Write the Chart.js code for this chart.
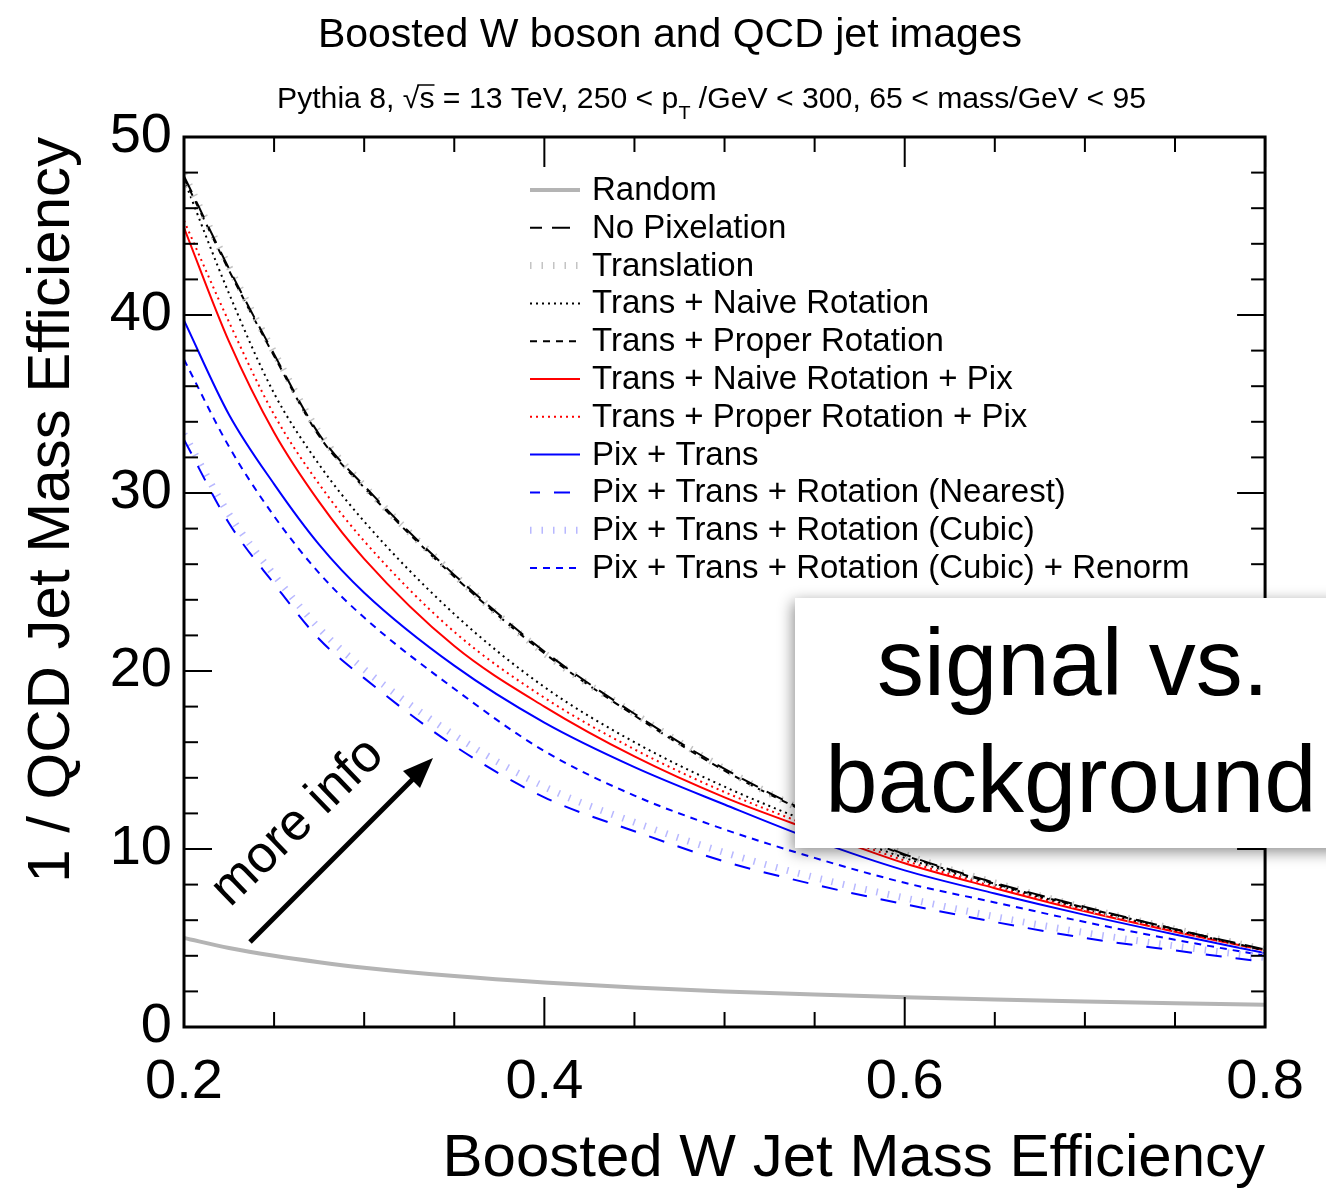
<!DOCTYPE html>
<html>
<head>
<meta charset="utf-8">
<script src="https://cdn.jsdelivr.net/npm/chart.js@4.4.1/dist/chart.umd.min.js"></script>
<style>
  html, body { margin: 0; padding: 0; background: #fff; }
  #wrap { width: 1326px; height: 1189px; position: relative; }
</style>
</head>
<body>
<div id="wrap"><canvas id="chart" width="1326" height="1189"></canvas></div>
<script>
const sigEff = [0.2, 0.225, 0.25, 0.275, 0.3, 0.35, 0.4, 0.45, 0.5, 0.55, 0.6, 0.65, 0.7, 0.75, 0.8];

// 1 / QCD efficiency for each curve
const random = [5.0, 4.44, 4.0, 3.64, 3.33, 2.86, 2.5, 2.22, 2.0, 1.82, 1.67, 1.54, 1.43, 1.33, 1.25];
const noPixelation = [47.8, 42.6, 37.8, 33.3, 30.4, 25.4, 21.1, 17.6, 14.5, 11.9, 9.7, 8.1, 6.75, 5.5, 4.35];
const translation = [47.9, 42.7, 37.9, 33.4, 30.4, 25.4, 21.0, 17.6, 14.5, 11.85, 9.7, 8.1, 6.7, 5.5, 4.35];
const transNaiveRot = [47.6, 41.2, 35.6, 31.6, 28.4, 23.2, 19.1, 16.0, 13.5, 11.4, 9.5, 8.0, 6.65, 5.45, 4.3];
const transProperRot = [47.7, 42.5, 37.7, 33.2, 30.3, 25.3, 21.0, 17.5, 14.4, 11.85, 9.65, 8.05, 6.7, 5.5, 4.3];
const transNaiveRotPix = [44.9, 38.5, 33.4, 29.5, 26.3, 21.4, 18.0, 15.2, 12.9, 11.0, 9.2, 7.8, 6.5, 5.35, 4.3];
const transProperRotPix = [45.3, 39.6, 34.4, 30.5, 27.3, 22.2, 18.5, 15.6, 13.2, 11.2, 9.35, 7.9, 6.6, 5.4, 4.3];
const pixTrans = [39.7, 34.4, 30.5, 27.1, 24.4, 20.3, 17.1, 14.6, 12.5, 10.5, 8.8, 7.5, 6.3, 5.2, 4.15];
const pixTransRotNearest = [33.0, 28.3, 24.9, 21.8, 19.6, 15.8, 12.9, 11.0, 9.3, 8.0, 6.9, 5.9, 5.0, 4.3, 3.65];
const pixTransRotCubic = [33.3, 28.8, 25.4, 22.4, 20.1, 16.4, 13.5, 11.5, 9.8, 8.4, 7.25, 6.2, 5.3, 4.55, 3.9];
const pixTransRotCubicRenorm = [37.5, 32.6, 28.7, 25.5, 23.0, 19.0, 15.5, 13.0, 11.1, 9.5, 8.1, 7.0, 5.9, 4.9, 4.0];

const xTicks = [0.2, 0.4, 0.6, 0.8];
const xTickLabels = ['0.2', '0.4', '0.6', '0.8'];
const xMinorTicks = [0.25, 0.3, 0.35, 0.45, 0.5, 0.55, 0.65, 0.7, 0.75];
const yTicks = [0, 10, 20, 30, 40, 50];
const yTickLabels = ['0', '10', '20', '30', '40', '50'];
const yMinorTicks = [2, 4, 6, 8, 12, 14, 16, 18, 22, 24, 26, 28, 32, 34, 36, 38, 42, 44, 46, 48];

const FONT = '"Liberation Sans", Arial, Helvetica, sans-serif';

function pts(ys) {
    return sigEff.map((x, i) => ({ x: x, y: ys[i] }));
}

function line(label, ys, color, width, dash) {
    return {
        label: label,
        data: pts(ys),
        borderColor: color,
        borderWidth: width,
        borderDash: dash,
        pointRadius: 0,
        fill: false,
        cubicInterpolationMode: 'monotone'
    };
}

const datasets = [
    line('Random', random, '#b4b4b4', 4, []),
    line('No Pixelation', noPixelation, '#000000', 2, [18, 10]),
    line('Translation', translation, '#c4c4c4', 7, [1.5, 10]),
    line('Trans + Naive Rotation', transNaiveRot, '#000000', 2, [2, 4]),
    line('Trans + Proper Rotation', transProperRot, '#000000', 2, [7, 6]),
    line('Trans + Naive Rotation + Pix', transNaiveRotPix, '#ff0000', 2, []),
    line('Trans + Proper Rotation + Pix', transProperRotPix, '#ff0000', 2, [2, 4]),
    line('Pix + Trans', pixTrans, '#0000ff', 2, []),
    line('Pix + Trans + Rotation (Nearest)', pixTransRotNearest, '#0000ff', 2, [16, 14]),
    line('Pix + Trans + Rotation (Cubic)', pixTransRotCubic, '#b8b8ff', 7, [1.5, 10]),
    line('Pix + Trans + Rotation (Cubic) + Renorm', pixTransRotCubicRenorm, '#0000ff', 2, [7, 6])
];

const overlay = {
    id: 'overlay',
    beforeDraw(chart) {
        const c = chart.ctx;
        c.save();
        c.fillStyle = '#fff';
        c.fillRect(0, 0, chart.width, chart.height);
        c.restore();
    },
    afterDraw(chart) {
        const c = chart.ctx;
        const { left, right, top, bottom } = chart.chartArea;
        const xs = chart.scales.x;
        const ys = chart.scales.y;

        c.save();
        c.strokeStyle = '#000';
        c.lineWidth = 2;
        const seg = (x1, y1, x2, y2) => { c.beginPath(); c.moveTo(x1, y1); c.lineTo(x2, y2); c.stroke(); };

        // inward ticks on all four sides
        xTicks.forEach(v => { const p = xs.getPixelForValue(v); seg(p, bottom, p, bottom - 30); seg(p, top, p, top + 30); });
        xMinorTicks.forEach(v => { const p = xs.getPixelForValue(v); seg(p, bottom, p, bottom - 15); seg(p, top, p, top + 15); });
        yTicks.forEach(v => { const p = ys.getPixelForValue(v); seg(left, p, left + 28, p); seg(right, p, right - 28, p); });
        yMinorTicks.forEach(v => { const p = ys.getPixelForValue(v); seg(left, p, left + 14, p); seg(right, p, right - 14, p); });

        c.lineWidth = 3;
        c.strokeRect(left, top, right - left, bottom - top);

        // titles
        c.fillStyle = '#000';
        c.textAlign = 'center';
        c.textBaseline = 'alphabetic';
        c.font = '41px ' + FONT;
        c.fillText('Boosted W boson and QCD jet images', 670, 47);

        // subtitle with sqrt(s) and p_T
        const big = '29px ' + FONT, small = '19px ' + FONT;
        const parts = [
            ['Pythia 8, ', big, 0],
            ['\u221A', big, 0],
            ['s', big, 0, true],
            [' = 13 TeV, 250 < p', big, 0],
            ['T', small, 11],
            [' /GeV < 300, 65 < mass/GeV < 95', big, 0]
        ];
        let w = 0;
        parts.forEach(p => { c.font = p[1]; w += c.measureText(p[0]).width; });
        const sx = 869 / w;
        c.save();
        c.translate(277, 0);
        c.scale(sx, 1);
        c.textAlign = 'left';
        let cx = 0;
        parts.forEach(p => {
            c.font = p[1];
            const pw = c.measureText(p[0]).width;
            c.fillText(p[0], cx, 108 + p[2]);
            if (p[3]) {
                c.lineWidth = 1.5;
                seg(cx - 2, 85, cx + pw, 85);
            }
            cx += pw;
        });
        c.restore();

        // legend
        c.textAlign = 'left';
        c.textBaseline = 'middle';
        c.font = '33px ' + FONT;
        chart.data.datasets.forEach((ds, i) => {
            const y = 190 + i * 37.8;
            c.save();
            c.strokeStyle = ds.borderColor;
            c.lineWidth = ds.borderWidth;
            c.setLineDash(ds.borderDash);
            c.lineDashOffset = ds.borderDash.length && ds.borderDash[0] > 10 ? 6 : 0;
            seg(530, y, 580, y);
            c.restore();
            c.fillText(ds.label, 592, y + 1);
        });

        // "more info" arrow
        c.lineWidth = 5;
        c.lineCap = 'butt';
        seg(250, 942, 414, 778);
        c.beginPath();
        c.moveTo(433, 758);
        c.lineTo(420, 788);
        c.lineTo(403, 771);
        c.closePath();
        c.fill();
        c.save();
        c.translate(230, 908);
        c.rotate(-44 * Math.PI / 180);
        c.textAlign = 'left';
        c.textBaseline = 'alphabetic';
        c.font = '52px ' + FONT;
        c.fillText('more info', 0, 0);
        c.restore();

        // signal vs. background box
        c.save();
        c.shadowColor = 'rgba(0,0,0,0.45)';
        c.shadowBlur = 14;
        c.shadowOffsetX = -2;
        c.shadowOffsetY = 4;
        c.fillStyle = '#fff';
        c.fillRect(795, 598, 600, 250);
        c.restore();
        c.fillStyle = '#000';
        c.textAlign = 'center';
        c.textBaseline = 'alphabetic';
        c.font = '94px ' + FONT;
        c.fillText('signal vs.', 1073, 695);
        c.fillText('background', 1071, 812);

        c.restore();
    }
};

new Chart(document.getElementById('chart'), {
    type: 'line',
    data: { datasets: datasets },
    options: {
        responsive: false,
        animation: false,
        devicePixelRatio: 1,
        layout: { padding: { top: 137, right: 58, left: 0, bottom: 0 } },
        plugins: { legend: { display: false }, tooltip: { enabled: false } },
        scales: {
            x: {
                type: 'linear',
                min: 0.2,
                max: 0.8,
                afterBuildTicks: s => { s.ticks = xTicks.map(v => ({ value: v })); },
                afterFit: s => { s.height = 162; },
                grid: { display: false, drawTicks: false },
                border: { display: false },
                ticks: {
                    color: '#000',
                    font: { family: FONT, size: 56 },
                    padding: 22,
                    maxRotation: 0,
                    autoSkip: false,
                    callback: (v, i) => xTickLabels[i]
                },
                title: {
                    display: true,
                    text: 'Boosted W Jet Mass Efficiency',
                    align: 'end',
                    color: '#000',
                    font: { family: FONT, size: 60, lineHeight: 1 },
                    padding: 0
                }
            },
            y: {
                type: 'linear',
                min: 0,
                max: 50,
                afterBuildTicks: s => { s.ticks = yTicks.map(v => ({ value: v })); },
                afterFit: s => { s.width = 184; },
                grid: { display: false, drawTicks: false },
                border: { display: false },
                ticks: {
                    color: '#000',
                    font: { family: FONT, size: 56 },
                    padding: 12,
                    autoSkip: false,
                    callback: (v, i) => yTickLabels[i]
                },
                title: {
                    display: true,
                    text: '1 / QCD Jet Mass Efficiency',
                    align: 'end',
                    color: '#000',
                    font: { family: FONT, size: 60, lineHeight: 1 },
                    padding: { top: 22, bottom: 0 }
                }
            }
        }
    },
    plugins: [overlay]
});
</script>
</body>
</html>
